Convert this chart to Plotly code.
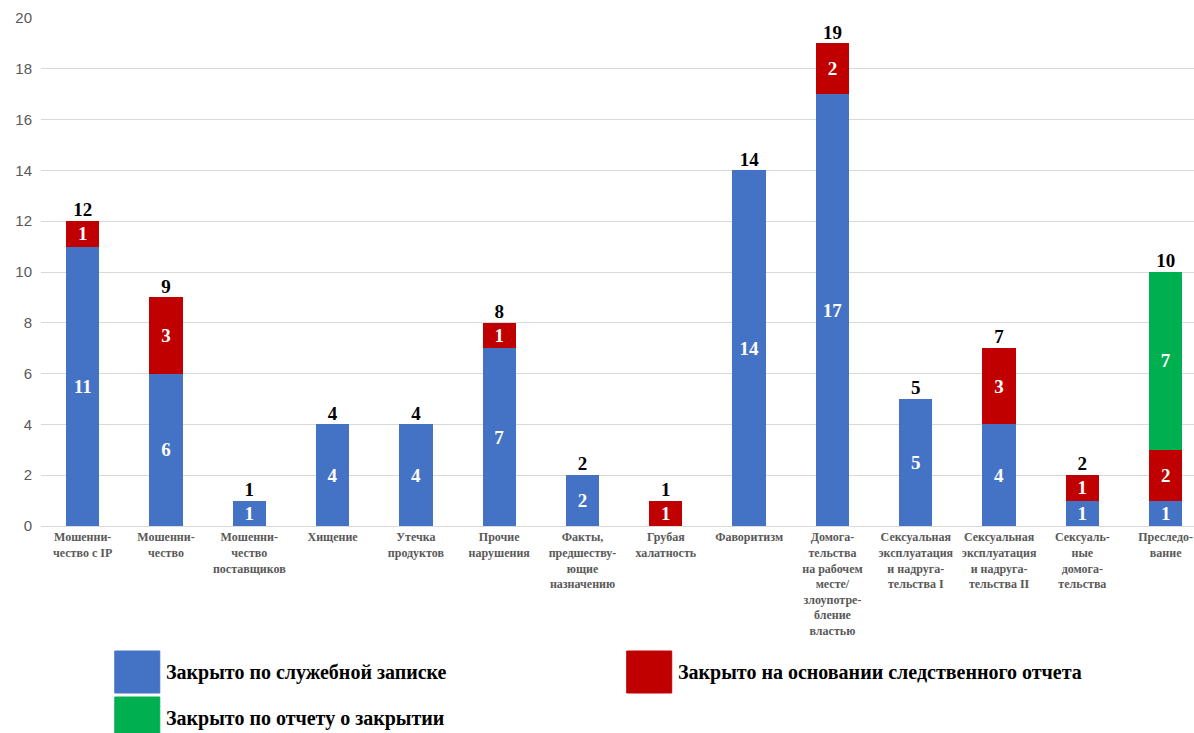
import plotly.graph_objects as go

categories = [
    "Мошенни-<br>чество с IP",
    "Мошенни-<br>чество",
    "Мошенни-<br>чество<br>поставщиков",
    "Хищение",
    "Утечка<br>продуктов",
    "Прочие<br>нарушения",
    "Факты,<br>предшеству-<br>ющие<br>назначению",
    "Грубая<br>халатность",
    "Фаворитизм",
    "Домога-<br>тельства<br>на рабочем<br>месте/<br>злоупотре-<br>бление<br>властью",
    "Сексуальная<br>эксплуатация<br>и надруга-<br>тельства I",
    "Сексуальная<br>эксплуатация<br>и надруга-<br>тельства II",
    "Сексуаль-<br>ные<br>домога-<br>тельства",
    "Преследо-<br>вание",
]
memo = [11, 6, 1, 4, 4, 7, 2, 0, 14, 17, 5, 4, 1, 1]
investigation = [1, 3, 0, 0, 0, 1, 0, 1, 0, 2, 0, 3, 1, 2]
closure = [0, 0, 0, 0, 0, 0, 0, 0, 0, 0, 0, 0, 0, 7]
y_ticks = [0, 2, 4, 6, 8, 10, 12, 14, 16, 18, 20]

series_names = [
    "Закрыто по служебной записке",
    "Закрыто на основании следственного отчета",
    "Закрыто по отчету о закрытии",
]
colors = ["#4472C4", "#C00000", "#00B050"]

x = list(range(len(categories)))
totals = [a + b + c for a, b, c in zip(memo, investigation, closure)]

fig = go.Figure()
for vals, name, col in zip([memo, investigation, closure], series_names, colors):
    fig.add_trace(go.Bar(
        x=x, y=vals, name=name, marker=dict(color=col, line=dict(width=0)),
        width=0.4,
        text=[str(v) if v else "" for v in vals],
        textposition="inside", insidetextanchor="middle",
        textangle=0, constraintext="none",
        textfont=dict(family="Liberation Serif", size=19, color="white", weight="bold"),
        showlegend=False, hoverinfo="skip",
    ))

fig.add_trace(go.Scatter(
    x=x, y=totals, mode="text", text=[str(t) for t in totals],
    textposition="top center",
    textfont=dict(family="Liberation Serif", size=19, color="black", weight="bold"),
    showlegend=False, hoverinfo="skip",
))

fig.update_layout(
    barmode="stack",
    width=1194, height=733,
    margin=dict(l=41, r=0, t=18, b=207),
    plot_bgcolor="white", paper_bgcolor="white",
    uniformtext=dict(mode="show", minsize=10),
)
fig.update_xaxes(
    tickvals=x, ticktext=categories, range=[-0.5, 13.34],
    tickfont=dict(family="Liberation Serif", size=12, color="#595959", weight="bold"),
    tickangle=0, showgrid=False, showline=True, linecolor="#d9d9d9", linewidth=1,
    ticks="", ticklen=0,
)
fig.update_yaxes(
    range=[0, 20], tickvals=y_ticks, showgrid=True, gridcolor="#d9d9d9",
    tickfont=dict(family="Liberation Sans", size=15, color="#595959"),
    zeroline=False, showline=False, ticks="", ticklabelstandoff=8,
)

# Custom legend (large colour squares)
legend_items = [
    (0.064, 1.0 - (651 - 18) / 508, series_names[0], colors[0]),
    (0.508, 1.0 - (651 - 18) / 508, series_names[1], colors[1]),
    (0.064, 1.0 - (697 - 18) / 508, series_names[2], colors[2]),
]
sq_w = 45 / 1153
sq_h = 42 / 508
for lx, ly, name, col in legend_items:
    fig.add_shape(type="rect", xref="paper", yref="paper",
                  x0=lx, x1=lx + sq_w, y0=ly - sq_h, y1=ly,
                  fillcolor=col, line=dict(width=1, color=col))
    fig.add_annotation(xref="paper", yref="paper", x=lx + sq_w + 0.004, y=ly - sq_h / 2,
                       text="<b>" + name + "</b>", showarrow=False, xanchor="left", yanchor="middle",
                       font=dict(family="Liberation Serif, serif", size=20, color="black"))

fig.write_html("out.html")
